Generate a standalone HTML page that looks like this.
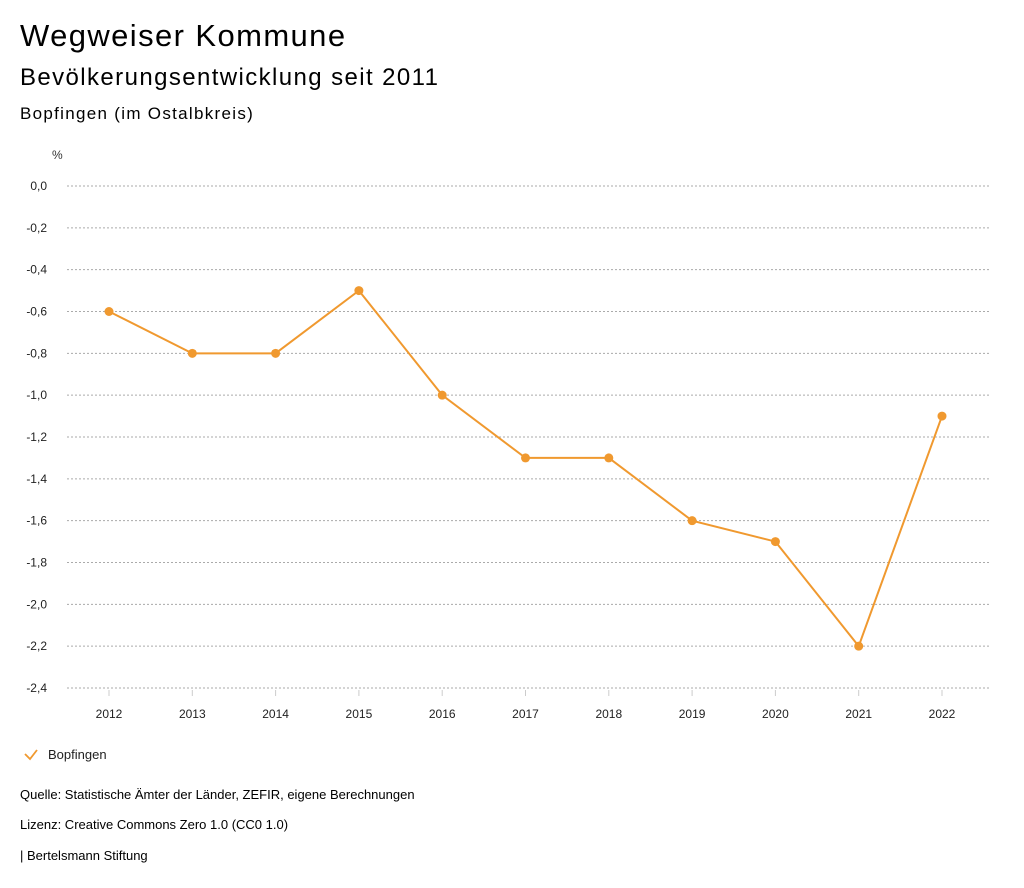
<!DOCTYPE html>
<html><head><meta charset="utf-8"><style>
body{margin:0;background:#fff;font-family:"Liberation Sans",sans-serif;color:#000}
#wrap{position:relative;width:1024px;height:888px;overflow:hidden}
.t{position:absolute;white-space:nowrap}
</style></head><body><div id="wrap">
<div class="t" style="left:20px;top:18px;font-size:31px;letter-spacing:1.4px">Wegweiser Kommune</div>
<div class="t" style="left:20px;top:64px;font-size:24px;letter-spacing:1.4px">Bevölkerungsentwicklung seit 2011</div>
<div class="t" style="left:20px;top:104px;font-size:17px;letter-spacing:1.3px">Bopfingen (im Ostalbkreis)</div>
<svg id="chart" width="1024" height="888" style="position:absolute;left:0;top:0"></svg>
<div class="t" style="left:20px;top:787px;font-size:13px">Quelle: Statistische Ämter der Länder, ZEFIR, eigene Berechnungen</div>
<div class="t" style="left:20px;top:817px;font-size:13px">Lizenz: Creative Commons Zero 1.0 (CC0 1.0)</div>
<div class="t" style="left:20px;top:848px;font-size:13px">| Bertelsmann Stiftung</div>
</div>
<script>
const years=[2012,2013,2014,2015,2016,2017,2018,2019,2020,2021,2022];
const values=[-0.6,-0.8,-0.8,-0.5,-1.0,-1.3,-1.3,-1.6,-1.7,-2.2,-1.1];
const yTicks=[0,-0.2,-0.4,-0.6,-0.8,-1.0,-1.2,-1.4,-1.6,-1.8,-2.0,-2.2,-2.4];
const NS='http://www.w3.org/2000/svg';
const svg=document.getElementById('chart');
const y=v=>186+(v/-2.4)*502;
const x=i=>109+i*83.3;
function mk(t,a){const e=document.createElementNS(NS,t);for(const k in a)e.setAttribute(k,a[k]);svg.appendChild(e);return e;}
let u=mk('text',{x:52,y:159,'font-size':12,fill:'#333'});u.textContent='%';


yTicks.forEach(v=>{
 const g=mk('line',{x1:67,x2:990,y1:y(v),y2:y(v),stroke:'#aaa','stroke-dasharray':'2,2','stroke-width':1});
 
 
 const t=mk('text',{x:47,y:y(v)+4,'font-size':12,'text-anchor':'end',fill:'#222'});
 t.textContent=v.toFixed(1).replace('.',',').replace('-0,0','0,0');
 
 
});
years.forEach((yr,i)=>{
 const l=mk('line',{x1:x(i),x2:x(i),y1:690,y2:696,stroke:'#ccc'});
 
 
 const t=mk('text',{x:x(i),y:718,'font-size':12,'text-anchor':'middle',fill:'#222'});
 t.textContent=yr;
 
 
});
const p=mk('polyline',{points:values.map((v,i)=>x(i)+','+y(v)).join(' '),fill:'none',stroke:'#f0992f','stroke-width':2});


values.forEach((v,i)=>{
 const c=mk('circle',{cx:x(i),cy:y(v),r:4.5,fill:'#f0992f'});
 
 
});
const lg=mk('path',{d:'M25 754 L30 759 L37 750',fill:'none',stroke:'#f0992f','stroke-width':1.8});


const lt=mk('text',{x:48,y:759,'font-size':13,fill:'#222'});lt.textContent='Bopfingen';


</script></body></html>
